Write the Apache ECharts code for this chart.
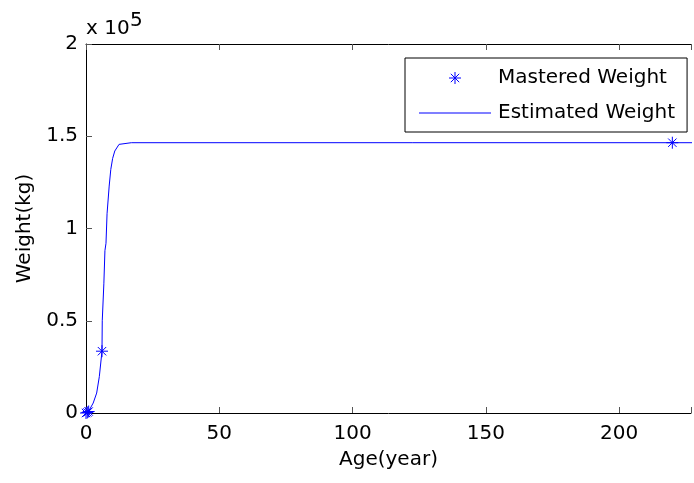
<!DOCTYPE html>
<html>
<head>
<meta charset="utf-8">
<script src="https://cdn.jsdelivr.net/npm/echarts@6/dist/echarts.min.js"></script>
<style>
  html, body { margin: 0; padding: 0; background: #fff; }
  #main { width: 694px; height: 483px; }
</style>
</head>
<body>
<div id="main"></div>
<script>
// measured points (stars)
const markAge = [0, 0.5, 1, 6, 220];
const markWeight = [0, 300, 800, 33500, 146500];

// estimated curve
const lineAge = [0, 0.9, 2.7, 4.0, 5.0, 6.0, 6.1, 6.7, 7.1, 7.5, 7.9, 8.7, 9.3, 10.0, 10.8, 12.4, 17, 230];
const lineWeight = [0, 700, 5400, 10800, 19700, 33500, 50000, 70000, 88000, 92000, 108000, 123000, 132000, 138000, 142000, 145600, 146500, 146500];

const xTicks = [0, 50, 100, 150, 200];
const yTicks = [0, 0.5, 1, 1.5, 2]; // x 10^5

const FONT = '"DejaVu Sans", sans-serif';
const STAR = 'path://M0,-1L0,1M-1,0L1,0M-0.7,-0.7L0.7,0.7M-0.7,0.7L0.7,-0.7';
const DASH = 'path://M0,0L72,0L72,1.2L0,1.2Z';

let myChart = echarts.init(document.getElementById('main'));

let option = {
    animation: false,
    backgroundColor: '#fff',
    textStyle: { fontFamily: FONT },
    grid: { left: 86, right: -1, top: 44, bottom: 70, containLabel: false },
    legend: {
        orient: 'vertical',
        left: 405,
        top: 58,
        padding: [10, 12, 9, 14],
        itemGap: 15,
        itemWidth: 72,
        itemHeight: 12,
        symbolKeepAspect: true,
        borderColor: '#000',
        borderWidth: 1,
        backgroundColor: '#fff',
        textStyle: { fontSize: 20, color: '#000', fontFamily: FONT, lineHeight: 20, padding: [0, 0, 0, 2] },
        data: [
            { name: 'Mastered Weight', icon: STAR, itemStyle: { color: 'none', borderColor: '#0000ff', borderWidth: 1 } },
            { name: 'Estimated Weight', icon: DASH, itemStyle: { color: '#0000ff', borderWidth: 0 } }
        ]
    },
    graphic: [
        { type: 'text', x: 86, y: 29, style: { text: 'x 10', font: '20px ' + FONT, fill: '#000', verticalAlign: 'middle' } },
        { type: 'text', x: 130, y: 21, style: { text: '5', font: '20px ' + FONT, fill: '#000', verticalAlign: 'middle' } }
    ],
    xAxis: [{
        type: 'value',
        min: 0,
        max: 227,
        interval: 50,
        name: 'Age(year)',
        nameLocation: 'middle',
        nameGap: 37,
        nameTextStyle: { fontSize: 20, color: '#000', fontFamily: FONT },
        axisLine: { show: true, onZero: false, lineStyle: { color: '#000', width: 1 } },
        axisTick: { inside: true, length: 6, lineStyle: { color: '#555' } },
        axisLabel: {
            fontSize: 20, color: '#000', margin: 11, fontFamily: FONT,
            formatter: v => (xTicks.indexOf(v) >= 0 ? String(v) : '')
        },
        splitLine: { show: false }
    }, {
        type: 'value',
        position: 'top',
        min: 0,
        max: 227,
        interval: 50,
        axisLine: { show: true, onZero: false, lineStyle: { color: '#000', width: 1 } },
        axisTick: { inside: true, length: 6, lineStyle: { color: '#555' } },
        axisLabel: { show: false },
        splitLine: { show: false }
    }],
    yAxis: [{
        type: 'value',
        min: 0,
        max: 200000,
        interval: 50000,
        name: 'Weight(kg)',
        nameLocation: 'middle',
        nameGap: 50,
        nameTextStyle: { fontSize: 20, color: '#000', fontFamily: FONT },
        axisLine: { show: true, onZero: false, lineStyle: { color: '#000', width: 1 } },
        axisTick: { inside: true, length: 6, lineStyle: { color: '#555' } },
        axisLabel: {
            fontSize: 20, color: '#000', margin: 8, fontFamily: FONT,
            formatter: v => String(yTicks[Math.round(v / 50000)])
        },
        splitLine: { show: false }
    }],
    series: [{
        name: 'Estimated Weight',
        type: 'line',
        data: lineAge.map((a, i) => [a, lineWeight[i]]),
        symbol: 'none',
        lineStyle: { color: '#0000ff', width: 1 },
        itemStyle: { color: '#0000ff' },
        z: 2
    }, {
        name: 'Mastered Weight',
        type: 'scatter',
        data: markAge.map((a, i) => [a, markWeight[i]]),
        symbol: STAR,
        symbolSize: 12,
        itemStyle: { color: 'none', borderColor: '#0000ff', borderWidth: 1, opacity: 1 },
        clip: false,
        z: 3
    }]
};
myChart.setOption(option);
</script>
</body>
</html>
